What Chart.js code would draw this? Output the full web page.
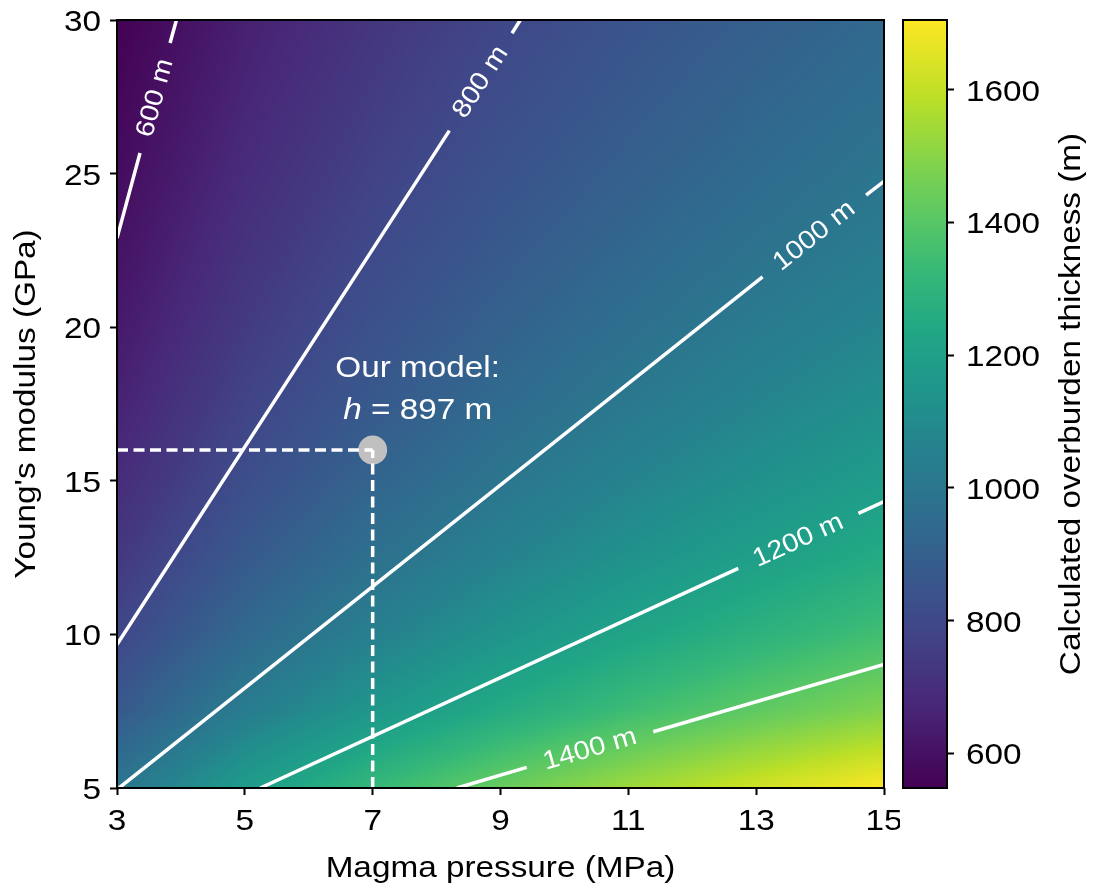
<!DOCTYPE html>
<html>
<head>
<meta charset="utf-8">
<title>Overburden thickness</title>
<script src="https://cdn.jsdelivr.net/npm/chart.js@4.4.1/dist/chart.umd.min.js"></script>
<style>
  html, body { margin: 0; padding: 0; background: #ffffff; }
  #wrap { position: relative; width: 1097px; height: 888px; overflow: hidden; }
  #main { position: absolute; left: 0; top: 0; }
  #cbar { position: absolute; left: 880px; top: 0; }
</style>
</head>
<body>
<div id="wrap">
  <canvas id="main" width="900" height="888"></canvas>
  <canvas id="cbar" width="217" height="888"></canvas>
</div>
<script>
// ---- data -------------------------------------------------------------
// Calculated overburden thickness h (m) on a grid of magma pressure (columns)
// and Young's modulus (rows).
const pressureGrid = [3, 5, 7, 9, 11, 13, 15];                          // MPa
const modulusGrid = [5, 7.5, 10, 12.5, 15, 17.5, 20, 22.5, 25, 27.5, 30]; // GPa
const thicknessGrid = [
  [997, 1182, 1322, 1437, 1537, 1625, 1704],  // E = 5
  [871, 1032, 1155, 1256, 1343, 1419, 1489],  // E = 7.5
  [791,  938, 1049, 1141, 1220, 1290, 1353],  // E = 10
  [734,  871,  974, 1059, 1132, 1197, 1256],  // E = 12.5
  [691,  819,  917,  997, 1066, 1127, 1182],  // E = 15
  [656,  778,  871,  947, 1012, 1070, 1123],  // E = 17.5
  [628,  744,  833,  906,  968, 1024, 1074],  // E = 20
  [604,  716,  801,  871,  931,  984, 1032],  // E = 22.5
  [583,  691,  773,  841,  899,  950,  997],  // E = 25
  [565,  669,  749,  814,  871,  921,  965],  // E = 27.5
  [548,  650,  727,  791,  846,  894,  938]   // E = 30
];

// Colour scale limits and ticks (m)
const colorMin = 548;
const colorMax = 1705;
const colorTicks = [600, 800, 1000, 1200, 1400, 1600];

// Axis ticks
const pressureTicks = [3, 5, 7, 9, 11, 13, 15];
const modulusTicks = [5, 10, 15, 20, 25, 30];

// Contour lines (pressure, modulus); null marks the gap left for the label
const contourLevels = [600, 800, 1000, 1200, 1400];
const contour600  = [[3, 22.9], [3.36, 25.67], null, [3.83, 29.25], [3.93, 30]];
const contour800  = [[3, 9.67], [8.20, 26.40], null, [9.18, 29.57], [9.31, 30]];
const contour1000 = [[3, 4.95], [13.10, 21.64], null, [14.72, 24.30], [15, 24.75]];
const contour1200 = [[5.24, 5], [12.72, 12.15], null, [14.60, 13.94], [15, 14.32]];
const contour1400 = [[8.32, 5], [9.41, 5.67], null, [11.39, 6.83], [15, 9.02]];
const labelPressure = [3.60, 8.69, 13.91, 13.66, 10.40];
const labelModulus  = [27.46, 27.98, 22.97, 13.05, 6.25];

// Model result
const modelPressure = 7;     // MPa
const modelModulus = 16;     // GPa
const modelThickness = 897;  // m

// Axis titles
const xTitle = 'Magma pressure (MPa)';
const yTitle = "Young's modulus (GPa)";
const colorTitle = 'Calculated overburden thickness (m)';

// ---- styling ----------------------------------------------------------
const FONT = '"Liberation Sans", Arial, Helvetica, sans-serif';
const WIDE = 1.11;          // horizontal widening of the lettering
const TEXT_SIZE = 30;
const CLABEL_SIZE = 26;
const LINE_W = 3.5;

// viridis colour stops
const viridisStops = [
  [0.000, 68, 1, 84], [0.100, 72, 36, 117], [0.111, 72, 40, 120],
  [0.200, 65, 68, 135], [0.222, 62, 74, 137], [0.250, 59, 82, 139],
  [0.300, 53, 95, 141], [0.333, 49, 104, 142], [0.400, 42, 120, 142],
  [0.444, 38, 130, 142], [0.500, 33, 145, 140], [0.556, 31, 158, 137],
  [0.600, 34, 168, 132], [0.667, 53, 183, 121], [0.700, 68, 191, 112],
  [0.750, 94, 201, 98], [0.778, 109, 205, 89], [0.800, 122, 209, 81],
  [0.889, 180, 222, 44], [0.900, 189, 223, 38], [1.000, 253, 231, 37]
];
function viridis(t) {
  t = Math.max(0, Math.min(1, t));
  for (let i = 1; i < viridisStops.length; i++) {
    const b = viridisStops[i];
    if (t <= b[0]) {
      const a = viridisStops[i - 1];
      const f = (t - a[0]) / (b[0] - a[0]);
      return [a[1] + f * (b[1] - a[1]), a[2] + f * (b[2] - a[2]), a[3] + f * (b[3] - a[3])];
    }
  }
  const l = viridisStops[viridisStops.length - 1];
  return [l[1], l[2], l[3]];
}

function locate(grid, v) {
  let i = 0;
  while (i < grid.length - 2 && v > grid[i + 1]) i++;
  const f = (v - grid[i]) / (grid[i + 1] - grid[i]);
  return [i, Math.max(0, Math.min(1, f))];
}
function thicknessAt(p, e) {
  const [i, fx] = locate(pressureGrid, p);
  const [j, fy] = locate(modulusGrid, e);
  const a = thicknessGrid[j][i], b = thicknessGrid[j][i + 1];
  const c = thicknessGrid[j + 1][i], d = thicknessGrid[j + 1][i + 1];
  return (a * (1 - fx) + b * fx) * (1 - fy) + (c * (1 - fx) + d * fx) * fy;
}

function toPoints(seg) {
  const out = [];
  let last = null;
  seg.forEach(p => {
    if (p === null) { out.push({x: last[0], y: null}); }
    else { out.push({x: p[0], y: p[1]}); last = p; }
  });
  return out;
}

// draws one piece of text, widened along its own direction
function drawText(ctx, text, x, y, o) {
  ctx.save();
  ctx.translate(x, y);
  if (o.rotate) ctx.rotate(o.rotate);
  ctx.scale(WIDE, 1);
  ctx.font = (o.size || TEXT_SIZE) + 'px ' + FONT;
  ctx.fillStyle = o.color || '#000000';
  ctx.textAlign = o.align || 'center';
  ctx.textBaseline = o.baseline || 'alphabetic';
  ctx.fillText(text, 0, 0);
  ctx.restore();
}

// ---- plugins ----------------------------------------------------------
const heatmapPlugin = {
  id: 'heatmap',
  beforeDatasetsDraw(chart) {
    const {ctx, chartArea, scales: {x, y}} = chart;
    const left = Math.round(chartArea.left), top = Math.round(chartArea.top);
    const w = Math.round(chartArea.right) - left, h = Math.round(chartArea.bottom) - top;
    const img = ctx.createImageData(w, h);
    for (let j = 0; j < h; j++) {
      const e = y.getValueForPixel(top + j + 0.5);
      for (let i = 0; i < w; i++) {
        const p = x.getValueForPixel(left + i + 0.5);
        const c = viridis((thicknessAt(p, e) - colorMin) / (colorMax - colorMin));
        const k = (j * w + i) * 4;
        img.data[k] = c[0]; img.data[k + 1] = c[1]; img.data[k + 2] = c[2]; img.data[k + 3] = 255;
      }
    }
    ctx.putImageData(img, left, top);
  }
};

const annotationPlugin = {
  id: 'annotations',
  afterDatasetsDraw(chart) {
    const {ctx, chartArea, scales: {x, y}} = chart;
    const contours = [contour600, contour800, contour1000, contour1200, contour1400];
    ctx.save();
    ctx.beginPath();
    ctx.rect(chartArea.left, chartArea.top, chartArea.right - chartArea.left, chartArea.bottom - chartArea.top);
    ctx.clip();
    // contour labels, rotated along their line
    contourLevels.forEach((lvl, k) => {
      const seg = contours[k];
      const a = seg[0], b = seg[seg.length - 1];
      const ang = Math.atan2(y.getPixelForValue(b[1]) - y.getPixelForValue(a[1]),
                             x.getPixelForValue(b[0]) - x.getPixelForValue(a[0]));
      drawText(ctx, lvl + ' m', x.getPixelForValue(labelPressure[k]), y.getPixelForValue(labelModulus[k]),
               {rotate: ang, size: CLABEL_SIZE, color: '#ffffff', baseline: 'middle'});
    });
    // model note
    const cx = x.getPixelForValue(modelPressure) + 45;
    const by = y.getPixelForValue(modelModulus);
    drawText(ctx, 'Our model:', cx, by - 73, {color: '#ffffff'});
    const italic = 'italic ' + TEXT_SIZE + 'px ' + FONT;
    const normal = TEXT_SIZE + 'px ' + FONT;
    const rest = ' = ' + modelThickness + ' m';
    ctx.font = italic; const wh = ctx.measureText('h').width;
    ctx.font = normal; const wr = ctx.measureText(rest).width;
    ctx.translate(cx, by - 31);
    ctx.scale(WIDE, 1);
    ctx.fillStyle = '#ffffff';
    ctx.textAlign = 'left';
    ctx.textBaseline = 'alphabetic';
    const sx = -(wh + wr) / 2;
    ctx.font = italic; ctx.fillText('h', sx, 0);
    ctx.font = normal; ctx.fillText(rest, sx + wh, 0);
    ctx.restore();
  },
  afterDraw(chart) {
    const {ctx, chartArea, scales: {x, y}} = chart;
    ctx.save();
    ctx.strokeStyle = '#000000';
    ctx.lineWidth = 2;
    ctx.strokeRect(chartArea.left, chartArea.top, chartArea.right - chartArea.left, chartArea.bottom - chartArea.top);
    ctx.restore();
    // tick labels
    x.ticks.forEach(t => drawText(ctx, String(t.value), x.getPixelForValue(t.value), chartArea.bottom + 42, {}));
    y.ticks.forEach(t => drawText(ctx, String(t.value), chartArea.left - 16, y.getPixelForValue(t.value) + 11, {align: 'right'}));
    // axis titles
    drawText(ctx, xTitle, (chartArea.left + chartArea.right) / 2, chartArea.bottom + 89, {});
    drawText(ctx, yTitle, 35, (chartArea.top + chartArea.bottom) / 2, {rotate: -Math.PI / 2});
  }
};

function lineSet(points, dash) {
  return {
    type: 'line', data: points, borderColor: '#ffffff', borderWidth: LINE_W,
    borderDash: dash || [], borderCapStyle: 'butt', pointRadius: 0, pointHoverRadius: 0,
    fill: false, spanGaps: false, tension: 0
  };
}

const tickGrid = {
  display: true, drawOnChartArea: false, drawTicks: true,
  tickLength: 7, tickWidth: 2, tickColor: '#000000', color: '#000000'
};
function noOverhang(s) {
  s.paddingTop = 0; s.paddingBottom = 0; s.paddingLeft = 0; s.paddingRight = 0;
}

new Chart(document.getElementById('main'), {
  type: 'scatter',
  data: {
    datasets: [
      lineSet(toPoints(contour600)),
      lineSet(toPoints(contour800)),
      lineSet(toPoints(contour1000)),
      lineSet(toPoints(contour1200)),
      lineSet(toPoints(contour1400)),
      lineSet([{x: pressureTicks[0], y: modelModulus}, {x: modelPressure, y: modelModulus}], [11, 5.5]),
      lineSet([{x: modelPressure, y: modulusTicks[0]}, {x: modelPressure, y: modelModulus}], [11, 5.5]),
      {
        type: 'scatter', data: [{x: modelPressure, y: modelModulus}],
        pointRadius: 14.5, pointHoverRadius: 14.5, backgroundColor: '#c0c0c0',
        borderWidth: 0, pointBorderWidth: 0
      }
    ]
  },
  options: {
    responsive: false, animation: false, devicePixelRatio: 1,
    events: [],
    layout: {padding: {top: 20, right: 16, left: 0, bottom: 0}},
    plugins: {legend: {display: false}, tooltip: {enabled: false}},
    scales: {
      x: {
        type: 'linear', min: 3, max: 15,
        afterBuildTicks: s => { s.ticks = pressureTicks.map(v => ({value: v})); },
        afterFit: s => { s.height = 100; noOverhang(s); },
        border: {display: false}, grid: tickGrid,
        ticks: {display: false, autoSkip: false},
        title: {display: false, text: xTitle}
      },
      y: {
        type: 'linear', min: 5, max: 30,
        afterBuildTicks: s => { s.ticks = modulusTicks.map(v => ({value: v})); },
        afterFit: s => { s.width = 117; noOverhang(s); },
        border: {display: false}, grid: tickGrid,
        ticks: {display: false, autoSkip: false},
        title: {display: false, text: yTitle}
      }
    }
  },
  plugins: [heatmapPlugin, annotationPlugin]
});

// ---- colour bar -------------------------------------------------------
const colorbarPlugin = {
  id: 'colorbar',
  beforeDatasetsDraw(chart) {
    const {ctx, chartArea, scales: {y}} = chart;
    const top = Math.round(chartArea.top), bottom = Math.round(chartArea.bottom);
    for (let py = top; py < bottom; py++) {
      const c = viridis((y.getValueForPixel(py + 0.5) - colorMin) / (colorMax - colorMin));
      ctx.fillStyle = 'rgb(' + c.map(Math.round).join(',') + ')';
      ctx.fillRect(chartArea.left, py, chartArea.right - chartArea.left, 1);
    }
  },
  afterDraw(chart) {
    const {ctx, chartArea, scales: {y}} = chart;
    ctx.save();
    ctx.strokeStyle = '#000000';
    ctx.lineWidth = 2;
    ctx.strokeRect(chartArea.left, chartArea.top, chartArea.right - chartArea.left, chartArea.bottom - chartArea.top);
    ctx.restore();
    y.ticks.forEach(t => drawText(ctx, String(t.value), chartArea.right + 19, y.getPixelForValue(t.value) + 11, {align: 'left'}));
    drawText(ctx, colorTitle, 200, (chartArea.top + chartArea.bottom) / 2, {rotate: -Math.PI / 2});
  }
};

new Chart(document.getElementById('cbar'), {
  type: 'scatter',
  data: {datasets: []},
  options: {
    responsive: false, animation: false, devicePixelRatio: 1,
    events: [],
    layout: {padding: {top: 20, right: 0, left: 23, bottom: 100}},
    plugins: {legend: {display: false}, tooltip: {enabled: false}},
    scales: {
      x: {type: 'linear', display: false, min: 0, max: 1},
      y: {
        type: 'linear', position: 'right', min: colorMin, max: colorMax,
        afterBuildTicks: s => { s.ticks = colorTicks.map(v => ({value: v})); },
        afterFit: s => { s.width = 150; noOverhang(s); },
        border: {display: false}, grid: tickGrid,
        ticks: {display: false, autoSkip: false}
      }
    }
  },
  plugins: [colorbarPlugin]
});
</script>
</body>
</html>
